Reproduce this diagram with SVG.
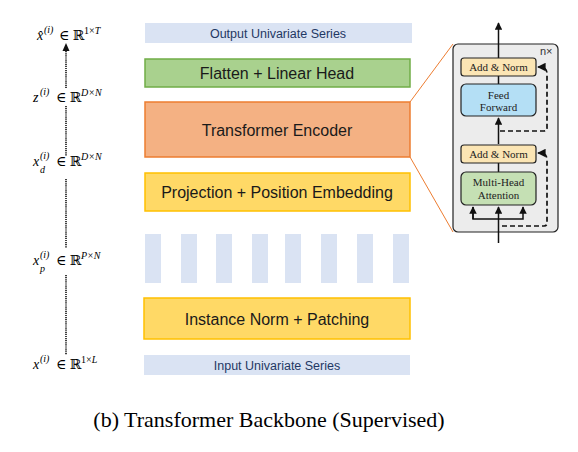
<svg xmlns="http://www.w3.org/2000/svg" width="578" height="452" viewBox="0 0 578 452">
<defs>
<style>
.bar{fill:#dae3f3}
.bartxt{font-family:"Liberation Sans",Arial,sans-serif;font-size:12.5px;fill:#1f3864;text-anchor:middle}
.lbl{font-family:"Liberation Sans",Arial,sans-serif;font-size:16px;fill:#1a1a1a;text-anchor:middle}
.m{font-family:"Liberation Serif","DejaVu Serif",serif;font-size:14px;fill:#000}
.mi{font-style:italic}
.sup{font-size:10px}
.tb{font-family:"Liberation Serif","Times New Roman",serif;font-size:11px;fill:#222;text-anchor:middle}
.blk{stroke:#222;stroke-width:1.2}
.ln{stroke:#111;stroke-width:1.5;fill:none}
.dash{stroke:#111;stroke-width:1.7;fill:none;stroke-dasharray:5 3}
.dot{stroke:#111;stroke-width:1.6;fill:none;stroke-dasharray:1.2 0.9}
.zoomln{stroke:#ed7d31;stroke-width:1;fill:none}
</style>
<marker id="ah" viewBox="0 0 10 10" refX="9" refY="5" markerWidth="5" markerHeight="5" orient="auto">
<path d="M0,0 L10,5 L0,10 z" fill="#111"/>
</marker>
</defs>
<rect width="578" height="452" fill="#fff"/>

<g id="output-series">
<rect class="bar" x="145" y="23" width="267" height="20"/>
<text class="bartxt" x="278" y="37.5">Output Univariate Series</text>
</g>
<g id="flatten-head">
<rect x="145" y="59" width="265" height="28" fill="#a9d18e" stroke="#70ad47" stroke-width="1.5"/>
<text class="lbl" x="277" y="79">Flatten + Linear Head</text>
</g>
<g id="transformer-encoder">
<rect x="145" y="102" width="265" height="55" fill="#f4b183" stroke="#ed7d31" stroke-width="1.5"/>
<text class="lbl" x="277" y="135.5">Transformer Encoder</text>
</g>
<g id="projection">
<rect x="145" y="173" width="265" height="38" fill="#ffd966" stroke="#ffc000" stroke-width="1.5"/>
<text class="lbl" x="277" y="197.5">Projection + Position Embedding</text>
</g>
<g id="patches">
<rect class="bar" x="145" y="234" width="16" height="49"/>
<rect class="bar" x="181" y="234" width="16" height="49"/>
<rect class="bar" x="216" y="234" width="16" height="49"/>
<rect class="bar" x="252" y="234" width="16" height="49"/>
<rect class="bar" x="285" y="234" width="16" height="49"/>
<rect class="bar" x="321" y="234" width="16" height="49"/>
<rect class="bar" x="357" y="234" width="16" height="49"/>
<rect class="bar" x="393" y="234" width="16" height="49"/>
</g>
<g id="instance-norm">
<rect x="144" y="298" width="266" height="41" fill="#ffd966" stroke="#ffc000" stroke-width="1.5"/>
<text class="lbl" x="277" y="324.5">Instance Norm + Patching</text>
</g>
<g id="input-series">
<rect class="bar" x="144" y="355" width="266" height="20"/>
<text class="bartxt" x="277" y="369.5">Input Univariate Series</text>
</g>

<g id="math-labels">
<text class="m mi" x="37" y="40">x̂</text>
<text class="m mi sup" x="44" y="33">(i)</text>
<text class="m" x="59" y="40">∈ ℝ</text>
<text class="m sup" x="84" y="34">1×<tspan class="mi">T</tspan></text>

<text class="m mi" x="33" y="102">z</text>
<text class="m mi sup" x="40" y="95">(i)</text>
<text class="m" x="56" y="102">∈ ℝ</text>
<text class="m mi sup" x="81" y="96">D×N</text>

<text class="m mi" x="33" y="166">x</text>
<text class="m mi sup" x="40" y="159">(i)</text>
<text class="m mi sup" x="40" y="173">d</text>
<text class="m" x="56" y="166">∈ ℝ</text>
<text class="m mi sup" x="81" y="160">D×N</text>

<text class="m mi" x="33" y="265">x</text>
<text class="m mi sup" x="40" y="258">(i)</text>
<text class="m mi sup" x="40" y="272">p</text>
<text class="m" x="56" y="265">∈ ℝ</text>
<text class="m mi sup" x="81" y="259">P×N</text>

<text class="m mi" x="33" y="369">x</text>
<text class="m mi sup" x="40" y="362">(i)</text>
<text class="m" x="56" y="369">∈ ℝ</text>
<text class="m sup" x="81" y="363">1×<tspan class="mi">L</tspan></text>
</g>

<g id="connectors">
<line class="dot" x1="66" y1="88" x2="66" y2="50"/>
<path d="M62.5,51 L66,43 L69.5,51 z" fill="#111"/>
<line class="dot" x1="66" y1="106" x2="66" y2="156"/>
<line class="dot" x1="66" y1="179" x2="66" y2="248"/>
<line class="dot" x1="66" y1="275" x2="66" y2="355"/>
<line class="zoomln" x1="410" y1="102" x2="453" y2="44"/>
<line class="zoomln" x1="410" y1="157" x2="453" y2="232"/>
</g>

<g id="encoder-block">
<rect x="453" y="44" width="105" height="188" rx="5" fill="#ececec" class="blk"/>
<text x="540" y="55" font-family="'Liberation Sans',Arial,sans-serif" font-size="11" fill="#333">n×</text>
</g>

<g id="block-connectors">
<line class="ln" x1="498.5" y1="243" x2="498.5" y2="207" marker-end="url(#ah)"/>
<polyline class="ln" points="473,207 473,219 523,219 523,207" marker-end="url(#ah)"/>
<line class="ln" x1="473" y1="219" x2="473" y2="207" marker-end="url(#ah)"/>
<line class="ln" x1="498.5" y1="172" x2="498.5" y2="163"/>
<line class="ln" x1="498.5" y1="144" x2="498.5" y2="118" marker-end="url(#ah)"/>
<line class="ln" x1="498.5" y1="84" x2="498.5" y2="76"/>
<line class="ln" x1="498.5" y1="58" x2="498.5" y2="23" marker-end="url(#ah)"/>
<path class="dash" d="M502,226 H544 Q547,226 547,223 V160 Q547,153 540,153 L538,153" marker-end="url(#ah)"/>
<path class="dash" d="M500,131 H544 Q547,131 547,128 V74 Q547,67 540,67 L538,67" marker-end="url(#ah)"/>
</g>

<g id="add-norm-top">
<rect x="461" y="58" width="75" height="18" rx="3" fill="#fbe5b4" class="blk"/>
<text class="tb" x="498.5" y="71">Add &amp; Norm</text>
</g>
<g id="feed-forward">
<rect x="461" y="84" width="75" height="32" rx="5" fill="#b4dff5" class="blk"/>
<text class="tb" x="498.5" y="98.5">Feed</text>
<text class="tb" x="498.5" y="111">Forward</text>
</g>
<g id="add-norm-bottom">
<rect x="461" y="145" width="75" height="18" rx="3" fill="#fbe5b4" class="blk"/>
<text class="tb" x="498.5" y="158">Add &amp; Norm</text>
</g>
<g id="multi-head-attention">
<rect x="461" y="172" width="75" height="33" rx="5" fill="#c5e0b4" class="blk"/>
<text class="tb" x="498.5" y="186">Multi-Head</text>
<text class="tb" x="498.5" y="199">Attention</text>
</g>

<g id="caption">
<text x="269" y="427" font-family="'Liberation Serif','Times New Roman',serif" font-size="22" fill="#000" text-anchor="middle">(b) Transformer Backbone (Supervised)</text>
</g>
</svg>
